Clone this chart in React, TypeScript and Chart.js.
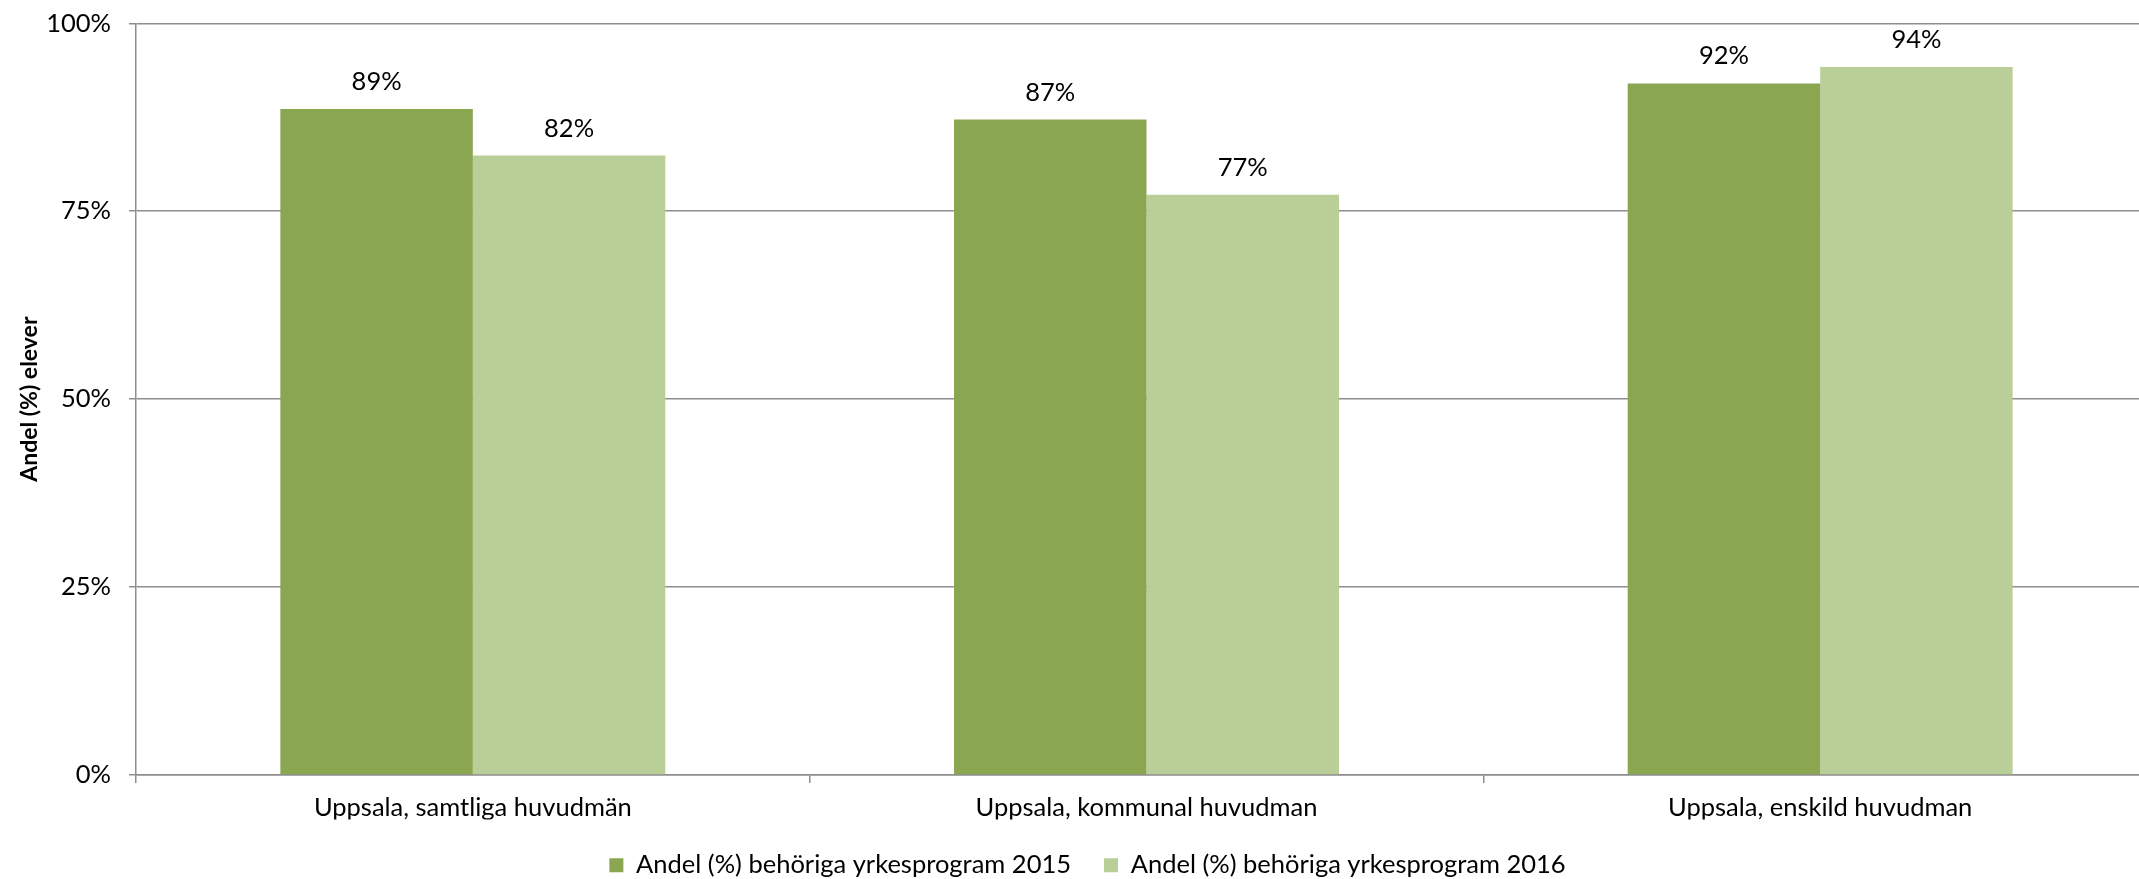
import React, { useEffect, useRef } from "react";
import { Chart, registerables } from "chart.js";

Chart.register(...registerables);

const categories = [
  "Uppsala, samtliga huvudmän",
  "Uppsala, kommunal huvudman",
  "Uppsala, enskild huvudman",
];
const series2015 = [88.6, 87.2, 92.0];
const series2016 = [82.4, 77.2, 94.2];
const seriesNames = [
  "Andel (%) behöriga yrkesprogram 2015",
  "Andel (%) behöriga yrkesprogram 2016",
];
const yTicks = [0, 25, 50, 75, 100];
const yTitle = "Andel (%) elever";

const FONT = "Lato";
const FS = 25.5;
const GRID = "#8e8e8e";

const valueLabels = {
  id: "valueLabels",
  afterDatasetsDraw(chart: any) {
    const ctx = chart.ctx;
    ctx.save();
    ctx.font = `${FS}px ${FONT}`;
    ctx.fillStyle = "#000";
    ctx.textAlign = "center";
    ctx.textBaseline = "alphabetic";
    chart.data.datasets.forEach((ds: any, i: number) => {
      const meta = chart.getDatasetMeta(i);
      meta.data.forEach((bar: any, j: number) => {
        const v = ds.data[j];
        ctx.fillText(Math.round(v) + "%", bar.x, bar.y - 19);
      });
    });
    ctx.restore();
  },
};

export default function App() {
  const ref = useRef<HTMLCanvasElement | null>(null);
  useEffect(() => {
    if (!ref.current) return;
    const chart = new Chart(ref.current, {
      type: "bar",
      data: {
        labels: categories,
        datasets: [
          {
            label: seriesNames[0],
            data: series2015,
            backgroundColor: "#8aa650",
            borderWidth: 0,
          },
          {
            label: seriesNames[1],
            data: series2016,
            backgroundColor: "#bacf97",
            borderWidth: 0,
          },
        ],
      },
      options: {
        responsive: false,
        animation: false,
        layout: { padding: { top: 0, left: 0, right: 0, bottom: 0 } },
        datasets: {
          bar: { categoryPercentage: 4 / 7, barPercentage: 1.0 },
        },
        plugins: {
          legend: {
            position: "bottom",
            labels: {
              boxWidth: 14,
              boxHeight: 14,
              padding: 33,
              color: "#000",
              font: { family: FONT, size: FS },
            },
          },
          tooltip: { enabled: false },
        },
        scales: {
          x: {
            afterFit: (s: any) => {
              s.height = 44.5;
            },
            grid: {
              offset: true,
              drawOnChartArea: false,
              drawTicks: true,
              tickLength: 8,
              color: GRID,
              lineWidth: 1.5,
            },
            border: { display: true, color: GRID, width: 1.5 },
            ticks: {
              color: "#000",
              padding: 9.5,
              maxRotation: 0,
              font: { family: FONT, size: FS },
            },
          },
          y: {
            min: 0,
            max: 100,
            afterFit: (s: any) => {
              s.width = 118;
            },
            afterBuildTicks: (s: any) => {
              s.ticks = yTicks.map((v) => ({ value: v }));
            },
            grid: {
              color: GRID,
              lineWidth: 1.5,
              tickLength: 7,
              drawTicks: true,
            },
            border: { display: true, color: GRID, width: 1.5 },
            ticks: {
              color: "#000",
              padding: 18,
              font: { family: FONT, size: FS },
              callback: (v: any) => v + "%",
            },
            title: {
              display: true,
              text: yTitle,
              color: "#000",
              padding: { top: 0, bottom: 0 },
              font: { family: FONT, size: 23, weight: "bold", lineHeight: 1 },
            },
          },
        },
      },
      plugins: [valueLabels],
    });
    return () => chart.destroy();
  }, []);

  return (
    <div
      style={{
        position: "fixed",
        left: 0,
        top: 0,
        width: 2139,
        height: 879,
        overflow: "hidden",
        background: "#fff",
      }}
    >
      <canvas
        ref={ref}
        width={2139}
        height={898}
        style={{ position: "absolute", left: 18, top: -10, width: 2139, height: 898 }}
      />
    </div>
  );
}
